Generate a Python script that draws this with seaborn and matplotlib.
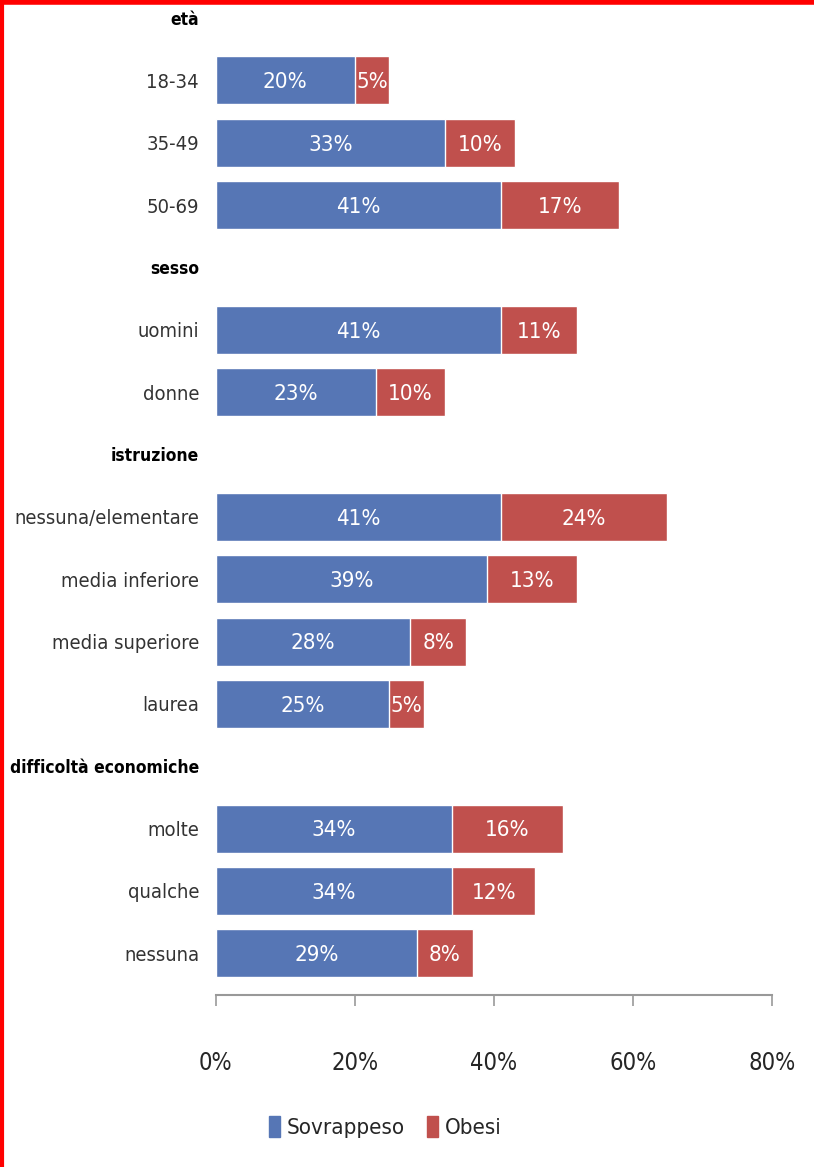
import pandas as pd
import matplotlib.pyplot as plt
import seaborn as sns
from matplotlib.lines import Line2D

# rows in display order; group headers carry no data
rows = ['età', '18-34', '35-49', '50-69',
        'sesso', 'uomini', 'donne',
        'istruzione', 'nessuna/elementare', 'media inferiore', 'media superiore', 'laurea',
        'difficoltà economiche', 'molte', 'qualche', 'nessuna']
headers = ['età', 'sesso', 'istruzione', 'difficoltà economiche']

categories = ['18-34', '35-49', '50-69', 'uomini', 'donne',
              'nessuna/elementare', 'media inferiore', 'media superiore', 'laurea',
              'molte', 'qualche', 'nessuna']
sovrappeso = [20, 33, 41, 41, 23, 41, 39, 28, 25, 34, 34, 29]
obesi = [5, 10, 17, 11, 10, 24, 13, 8, 5, 16, 12, 8]

df = pd.DataFrame({'cat': categories, 'Sovrappeso': sovrappeso, 'Obesi': obesi})
df['totale'] = df['Sovrappeso'] + df['Obesi']

blue = '#5676B5'
red = '#C0504D'

sns.set_style('white')
plt.rcParams['font.family'] = ['DejaVu Sans']
plt.rcParams['font.stretch'] = 'condensed'

fig = plt.figure(figsize=(8.14, 11.67), dpi=100)
ax = fig.add_axes([0.265, 0.1474, 0.683, 0.8526])

# stacked: total (red) first, then sovrappeso (blue) on top
sns.barplot(data=df, x='totale', y='cat', order=rows, orient='h',
            color=red, saturation=1, width=0.77, ax=ax)
sns.barplot(data=df, x='Sovrappeso', y='cat', order=rows, orient='h',
            color=blue, saturation=1, width=0.77, ax=ax)

for _, r in df.iterrows():
    i = rows.index(r['cat'])
    ax.text(r['Sovrappeso'] / 2, i + 0.03, f"{r['Sovrappeso']}%", color='white',
            ha='center', va='center', fontsize=16, fontstretch='condensed')
    ax.text(r['Sovrappeso'] + r['Obesi'] / 2, i + 0.03, f"{r['Obesi']}%", color='white',
            ha='center', va='center', fontsize=16, fontstretch='condensed')

ax.set_xlim(0, 80)
ax.set_ylim(15.67, -0.29)
ax.set_xticks([0, 20, 40, 60, 80])
ax.set_xticklabels(['0%', '20%', '40%', '60%', '80%'], fontsize=17, color='#262626')
ax.set_xlabel('')
ax.set_ylabel('')

for lab in ax.get_yticklabels():
    if lab.get_text() in headers:
        lab.set_fontweight('bold')
        lab.set_color('black')
        lab.set_fontsize(12.5)
    else:
        lab.set_color('#333333')
        lab.set_fontsize(14.5)

sns.despine(ax=ax, left=True)
ax.spines['bottom'].set_color('#999999')
ax.spines['bottom'].set_linewidth(1.5)
ax.tick_params(axis='y', length=0, pad=12)
ax.tick_params(axis='x', direction='out', length=8, width=1.2, color='#999999',
               bottom=True, pad=32)

handles = [plt.Rectangle((0, 0), 1, 1, color=blue), plt.Rectangle((0, 0), 1, 1, color=red)]
fig.legend(handles, ['Sovrappeso', 'Obesi'], loc='center',
           bbox_to_anchor=(385 / 814, 1 - 1127 / 1167), ncol=2, frameon=False,
           fontsize=16, handlelength=0.5, handleheight=1.1, handletextpad=0.3,
           columnspacing=1.0)

# red frame on left and top edges
fig.add_artist(Line2D([0.002, 0.002], [0, 1], color='red', lw=3, transform=fig.transFigure))
fig.add_artist(Line2D([0, 1], [0.998, 0.998], color='red', lw=4, transform=fig.transFigure))

fig.savefig('out.png', dpi=100)
